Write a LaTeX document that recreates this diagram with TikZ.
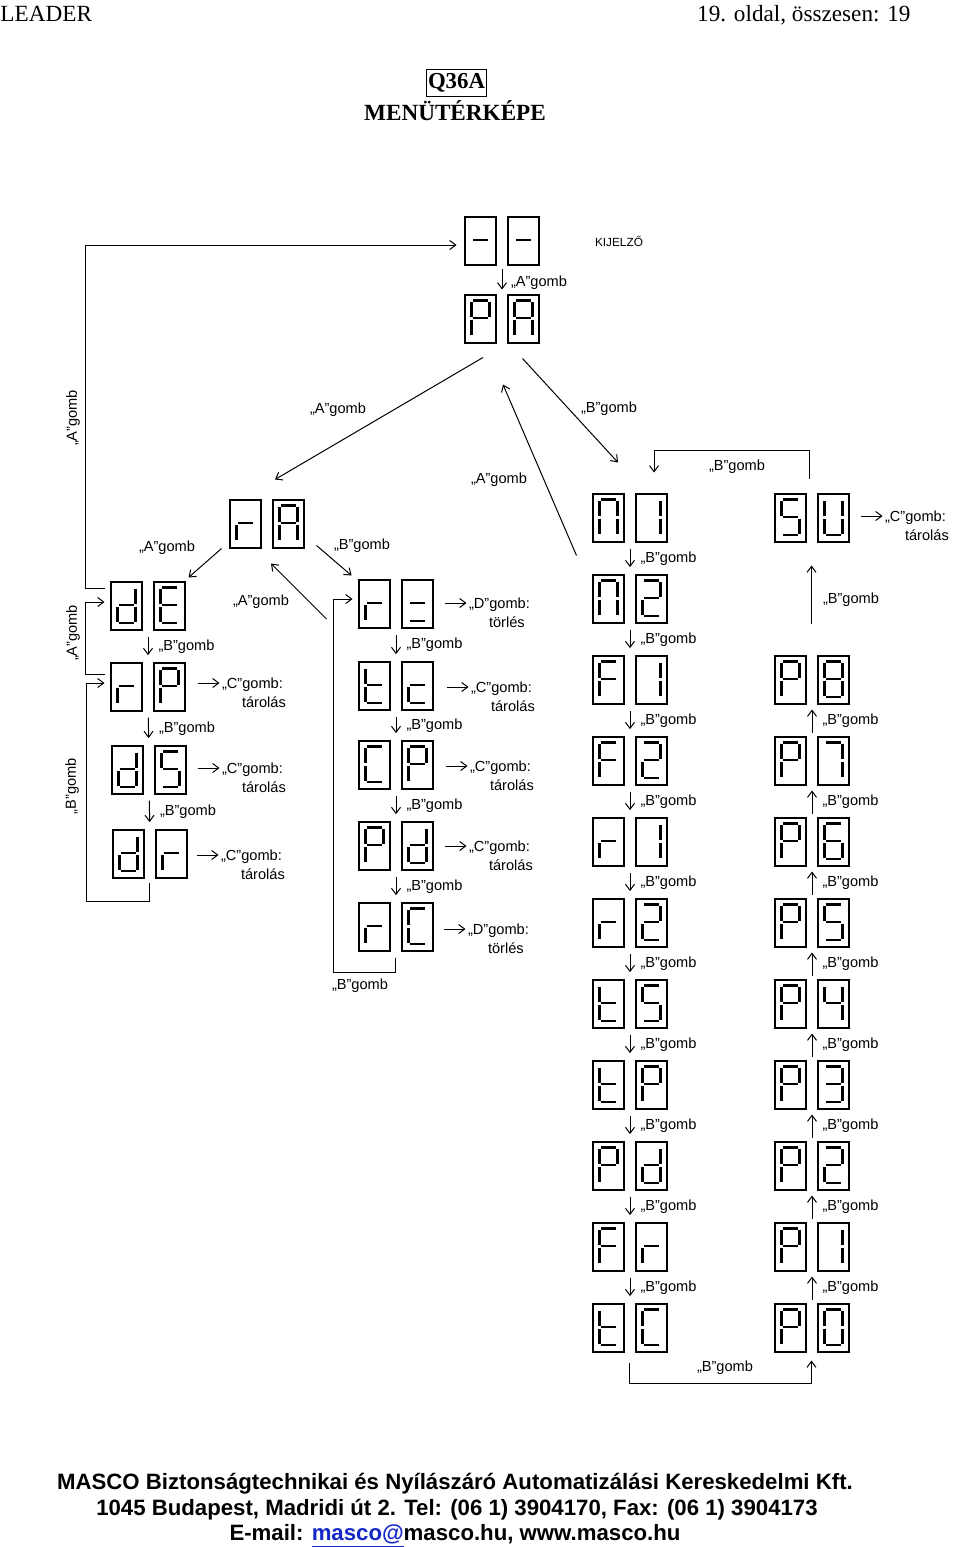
\documentclass[tikz,border=0pt]{standalone}
\usepackage{fontspec}
\setmainfont{Liberation Serif}
\newfontfamily\arialfont{Liberation Sans}
\usetikzlibrary{arrows.meta,calc}
\definecolor{linkblue}{RGB}{20,40,200}

\tikzset{
  digbox/.style={line width=0.7pt},
  seg/.style={line width=1.1pt},
  seg a/.code={\draw[seg] (8,5.5) -- (23,5.5);},
  seg b/.code={\draw[seg] (24.5,7) -- (24.5,21.5);},
  seg c/.code={\draw[seg] (24.5,24.5) -- (24.5,39.5);},
  seg d/.code={\draw[seg] (8,41) -- (23,41);},
  seg e/.code={\draw[seg] (6.5,24.5) -- (6.5,39.5);},
  seg f/.code={\draw[seg] (6.5,7) -- (6.5,21.5);},
  seg g/.code={\draw[seg] (8,23) -- (23,23);},
}

% one seven-segment digit, top left corner at (#1,#2)
\newcommand{\segdigit}[3]{%
  \begin{scope}[shift={(#1,#2)}]
    \draw[digbox] (0,0) rectangle (31,48);
    \foreach \s in {#3} {\tikzset{seg \s}}
  \end{scope}}

% two digits side by side, named as one node
\newcommand{\segpair}[5]{%
  \node[disp] (#1) at ({#2+37},{#3+24}) {};
  \segdigit{#2}{#3}{#4}
  \segdigit{#2+43}{#3}{#5}}

\begin{document}
\begin{tikzpicture}[x=0.5pt, y=-0.5pt, line width=0.5pt,
  >={Straight Barb[length=3pt,width=4.5pt]},
  disp/.style={rectangle, inner sep=0pt, minimum width=37pt, minimum height=24pt},
  lbl/.style={font=\arialfont\fontsize{7.3}{9.3}\selectfont, inner sep=1pt},
  keynote/.style={lbl, align=left, anchor=north west, yshift=3.8pt},
  stepdown/.style={->, shorten <=3pt, shorten >=3.7pt},
  stepup/.style={->, shorten <=2pt, shorten >=2.5pt},
  blabel/.style={lbl, midway, right=4pt}]
\useasboundingbox (0,0) rectangle (960,1547);

% page header and title
\node[anchor=base west, inner sep=0pt, font=\fontsize{11.6}{14}\selectfont] (leader) at (0,21) {LEADER};
\node[anchor=base east, inner sep=0pt, font=\fontsize{11.6}{14}\selectfont] (page) at (911,21) {19. oldal, összesen: 19};
\node[draw, line width=0.6pt, inner sep=0.5pt, minimum width=30pt, minimum height=13.5pt, font=\bfseries\fontsize{11.4}{13}\selectfont] (model) at (456.5,82.7) {Q36A};
\node[anchor=base, inner sep=0pt, font=\bfseries\fontsize{11.6}{13}\selectfont] (title) at (455,120) {MENÜTÉRKÉPE};

% displays
\segpair{dash}{465}{217}{g}{g}
\segpair{pa}{465}{295}{a,b,e,f,g}{a,b,c,e,f,g}
\segpair{ra}{230}{500}{e,g}{a,b,c,e,f,g}
\segpair{de}{111}{582}{b,c,d,e,g}{a,d,e,f,g}
\segpair{rp}{111}{663}{e,g}{a,b,e,f,g}
\segpair{ds}{112}{746}{b,c,d,e,g}{a,c,d,f,g}
\segpair{dr}{113}{830}{b,c,d,e,g}{e,g}
\segpair{rdash}{359}{580}{e,g}{d,g}
\segpair{tcs}{359}{662}{d,e,f,g}{d,e,g}
\segpair{cp}{359}{741}{a,d,e,f}{a,b,e,f,g}
\segpair{pd}{359}{822}{a,b,e,f,g}{b,c,d,e,g}
\segpair{rc}{359}{903}{e,g}{a,d,e,f}
\segpair{n1}{593}{494}{a,b,c,e,f}{b,c}
\segpair{n2}{593}{575}{a,b,c,e,f}{a,b,d,e,g}
\segpair{f1}{593}{656}{a,e,f,g}{b,c}
\segpair{f2}{593}{737}{a,e,f,g}{a,b,d,e,g}
\segpair{r1}{593}{818}{e,g}{b,c}
\segpair{r2}{593}{899}{e,g}{a,b,d,e,g}
\segpair{ts}{593}{980}{d,e,f,g}{a,c,d,f,g}
\segpair{tp}{593}{1061}{d,e,f,g}{a,b,e,f,g}
\segpair{pdr}{593}{1142}{a,b,e,f,g}{b,c,d,e,g}
\segpair{fr}{593}{1223}{a,e,f,g}{e,g}
\segpair{tcr}{593}{1304}{d,e,f,g}{a,d,e,f}
\segpair{su}{775}{494}{a,c,d,f,g}{b,c,d,e,f}
\segpair{p8}{775}{656}{a,b,e,f,g}{a,b,c,d,e,f,g}
\segpair{p7}{775}{737}{a,b,e,f,g}{a,b,c}
\segpair{p6}{775}{818}{a,b,e,f,g}{a,c,d,e,f,g}
\segpair{p5}{775}{899}{a,b,e,f,g}{a,c,d,f,g}
\segpair{p4}{775}{980}{a,b,e,f,g}{b,c,f,g}
\segpair{p3}{775}{1061}{a,b,e,f,g}{a,b,c,d,g}
\segpair{p2}{775}{1142}{a,b,e,f,g}{a,b,d,e,g}
\segpair{p1}{775}{1223}{a,b,e,f,g}{b,c}
\segpair{p0}{775}{1304}{a,b,e,f,g}{a,b,c,d,e,f}

% top
\draw[->, shorten <=1.5pt, shorten >=2.5pt] (dash) -- (pa);
\node[lbl] (agomb1) at (539,283) {„A”gomb};
\node[lbl, font=\arialfont\fontsize{5.9}{7}\selectfont] (kijelzo) at (619,241) {KIJELZŐ};
\draw[->] ($(pa.south)+(-19,14)$) -- ($(ra.north)+(8,-20)$);
\node[lbl] (agomb2) at (338,410) {„A”gomb};
\draw[->] ($(pa.south east)+(-17,15)$) -- ($(n1.north)+(-12,-31)$);
\node[lbl] (bgomb1) at (609,409) {„B”gomb};
\draw[->] ($(n1.south west)+(-16,13)$) -- ($(pa.south)+(1,41)$);
\node[lbl] (agomb3) at (499,480) {„A”gomb};

% around rA
\draw[->] ($(ra.south west)+(-8,0)$) -- ($(de.north east)+(3,-4)$);
\node[lbl] (agomb4) at (167,548) {„A”gomb};
\draw[->] ($(ra.south east)+(12,-3)$) -- ($(rdash.north west)+(-7,-4)$);
\node[lbl] (bgomb2) at (362,546) {„B”gomb};
\draw[->] ($(rdash.west)+(-32,15)$) -- ($(ra.south)+(4,15)$);
\node[lbl] (agomb5) at (261,602) {„A”gomb};

% left column
\draw[->] ($(de.north west)+(-6,7)$) -- ++(-19,0) |- ($(dash.west)+(-8,4)$);
\node[lbl, rotate=90] (agomb6) at (73,418) {„A”gomb};
\draw[->] ($(rp.north west)+(-6,12)$) -- ++(-19,0) |- ($(de.west)+(-6,-4)$);
\node[lbl, rotate=90] (agomb7) at (73,633) {„A”gomb};
\draw[->] ($(dr.south)+(-1,4)$) -- ++(0,19) -- ++(-62.5,0) |- ($(rp.west)+(-6,-4)$);
\node[lbl, rotate=90] (bgomb3) at (72,786) {„B”gomb};
\draw[stepdown] (de) -- node[blabel] (bde) {„B”gomb} (rp);
\draw[stepdown] (rp) -- node[blabel] (brp) {„B”gomb} (ds);
\draw[stepdown] (ds) -- node[blabel] (bds) {„B”gomb} (dr);
\draw[->] ($(rp.east)+(12,-4)$) -- ++(22,0) node[keynote] (krp) {„C”gomb:\\\hspace*{10pt}tárolás};
\draw[->] ($(ds.east)+(11,-2)$) -- ++(22,0) node[keynote] (kds) {„C”gomb:\\\hspace*{10pt}tárolás};
\draw[->] ($(dr.east)+(9,1)$) -- ++(22,0) node[keynote] (kdr) {„C”gomb:\\\hspace*{10pt}tárolás};

% middle column
\draw[stepdown] (rdash) -- node[blabel] (brd) {„B”gomb} (tcs);
\draw[stepdown] (tcs) -- node[blabel] (btc) {„B”gomb} (cp);
\draw[stepdown] (cp) -- node[blabel] (bcp) {„B”gomb} (pd);
\draw[stepdown] (pd) -- node[blabel] (bpd) {„B”gomb} (rc);
\draw[->] ($(rc.south)+(-1,6)$) -- ++(0,15) -- ++(-62,0) |- ($(rdash.west)+(-6,-5)$);
\node[lbl] (bgomb4) at (360,986) {„B”gomb};
\draw[->] ($(rdash.east)+(11,-1)$) -- ++(22,0) node[keynote] (krd) {„D”gomb:\\\hspace*{10pt}törlés};
\draw[->] ($(tcs.east)+(13,1)$) -- ++(22,0) node[keynote] (ktc) {„C”gomb:\\\hspace*{10pt}tárolás};
\draw[->] ($(cp.east)+(12,1)$) -- ++(22,0) node[keynote] (kcp) {„C”gomb:\\\hspace*{10pt}tárolás};
\draw[->] ($(pd.east)+(11,0)$) -- ++(22,0) node[keynote] (kpd) {„C”gomb:\\\hspace*{10pt}tárolás};
\draw[->] ($(rc.east)+(10,2)$) -- ++(22,0) node[keynote] (krc) {„D”gomb:\\\hspace*{10pt}törlés};

% right column, going down
\draw[stepdown] (n1) -- node[blabel] (bn1) {„B”gomb} (n2);
\draw[stepdown] (n2) -- node[blabel] (bn2) {„B”gomb} (f1);
\draw[stepdown] (f1) -- node[blabel] (bf1) {„B”gomb} (f2);
\draw[stepdown] (f2) -- node[blabel] (bf2) {„B”gomb} (r1);
\draw[stepdown] (r1) -- node[blabel] (br1) {„B”gomb} (r2);
\draw[stepdown] (r2) -- node[blabel] (br2) {„B”gomb} (ts);
\draw[stepdown] (ts) -- node[blabel] (bts) {„B”gomb} (tp);
\draw[stepdown] (tp) -- node[blabel] (btp) {„B”gomb} (pdr);
\draw[stepdown] (pdr) -- node[blabel] (bpdr) {„B”gomb} (fr);
\draw[stepdown] (fr) -- node[blabel] (bfr) {„B”gomb} (tcr);
\draw[->] ($(tcr.south)+(-0.5,10)$) -- ++(0,21) -| ($(p0.south)+(-0.5,8)$);
\node[lbl] (bgomb5) at (725,1368) {„B”gomb};

% right column, going up
\draw[stepup] (p0) -- node[blabel] (bp0) {„B”gomb} (p1);
\draw[stepup] (p1) -- node[blabel] (bp1) {„B”gomb} (p2);
\draw[stepup] (p2) -- node[blabel] (bp2) {„B”gomb} (p3);
\draw[stepup] (p3) -- node[blabel] (bp3) {„B”gomb} (p4);
\draw[stepup] (p4) -- node[blabel] (bp4) {„B”gomb} (p5);
\draw[stepup] (p5) -- node[blabel] (bp5) {„B”gomb} (p6);
\draw[stepup] (p6) -- node[blabel] (bp6) {„B”gomb} (p7);
\draw[stepup] (p7) -- node[blabel] (bp7) {„B”gomb} (p8);
\draw[->] ($(p8.north)+(-0.5,-32)$) -- ($(su.south)+(-0.5,23)$);
\node[lbl] (bgomb6) at (851,600) {„B”gomb};
\draw[->] ($(su.north)+(-2.5,-15)$) -- ++(0,-28) -| ($(n1.north)+(24,-21)$);
\node[lbl] (bgomb7) at (737,467) {„B”gomb};
\draw[->] ($(su.east)+(11,-2)$) -- ++(22,0) node[keynote] (ksu) {„C”gomb:\\\hspace*{10pt}tárolás};

% footer
\node[anchor=base, inner sep=0pt, font=\arialfont\bfseries\fontsize{11.1}{13}\selectfont] (firm) at (455,1489) {MASCO Biztonságtechnikai és Nyílászáró Automatizálási Kereskedelmi Kft.};
\node[anchor=base, inner sep=0pt, font=\arialfont\bfseries\fontsize{11.1}{13}\selectfont] (addr) at (457,1515) {1045 Budapest, Madridi út 2. Tel: (06 1) 3904170, Fax: (06 1) 3904173};
\node[anchor=base, inner sep=0pt, font=\arialfont\bfseries\fontsize{11.1}{13}\selectfont] (mail) at (455,1540) {E-mail: \textcolor{linkblue}{\underline{masco@}}masco.hu, www.masco.hu};
\end{tikzpicture}
\end{document}
